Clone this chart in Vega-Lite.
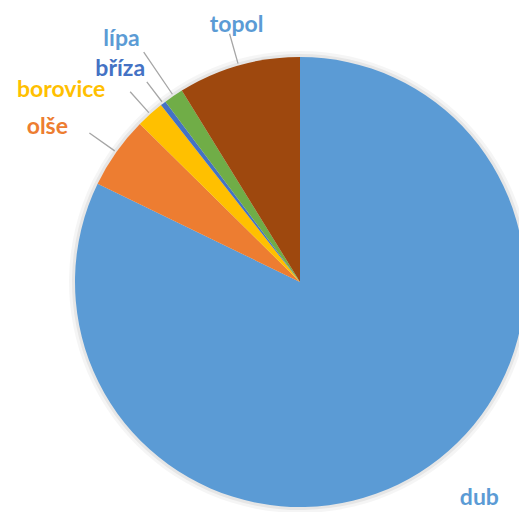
{
  "$schema": "https://vega.github.io/schema/vega-lite/v6.json",
  "width": 438,
  "height": 460,
  "autosize": {"type": "none"},
  "padding": {"left": 81, "top": 52, "right": 0, "bottom": 0},
  "background": "white",
  "view": {"stroke": null},
  "data": {
    "values": [
      {"tree": "dub", "pct": 82.2, "order": 1},
      {"tree": "olše", "pct": 5.2, "order": 2},
      {"tree": "borovice", "pct": 2.0, "order": 3},
      {"tree": "bříza", "pct": 0.4, "order": 4},
      {"tree": "lípa", "pct": 1.4, "order": 5},
      {"tree": "topol", "pct": 8.8, "order": 6}
    ]
  },
  "encoding": {
    "theta": {"field": "pct", "type": "quantitative", "stack": true},
    "order": {"field": "order", "type": "quantitative"},
    "detail": {"field": "tree", "type": "nominal"}
  },
  "layer": [
    {"mark": {"type": "arc", "radius": 231, "color": "#000000", "opacity": 0.04}},
    {"mark": {"type": "arc", "radius": 228, "color": "#000000", "opacity": 0.06}},
    {
      "mark": {"type": "arc", "radius": 225},
      "encoding": {
        "color": {
          "field": "tree",
          "type": "nominal",
          "scale": {
            "domain": ["dub", "olše", "borovice", "bříza", "lípa", "topol"],
            "range": ["#5B9BD5", "#ED7D31", "#FFC000", "#4472C4", "#70AD47", "#9E480E"]
          },
          "legend": null
        }
      }
    },
    {
      "mark": {"type": "arc", "radius": 258, "radius2": 227, "padAngle": 3.2, "fillOpacity": 0, "stroke": "#A6A6A6", "strokeWidth": 1.3},
      "encoding": {"strokeOpacity": {"condition": {"test": "datum.tree === 'topol'", "value": 1}, "value": 0}}
    },
    {
      "mark": {"type": "arc", "radius": 278, "radius2": 227, "padAngle": 3.2, "fillOpacity": 0, "stroke": "#A6A6A6", "strokeWidth": 1.3},
      "encoding": {"strokeOpacity": {"condition": {"test": "datum.tree === 'lípa'", "value": 1}, "value": 0}}
    },
    {
      "mark": {"type": "arc", "radius": 252, "radius2": 227, "padAngle": 3.2, "fillOpacity": 0, "stroke": "#A6A6A6", "strokeWidth": 1.3},
      "encoding": {"strokeOpacity": {"condition": {"test": "datum.tree === 'bříza'", "value": 1}, "value": 0}}
    },
    {
      "mark": {"type": "arc", "radius": 255, "radius2": 227, "padAngle": 3.2, "fillOpacity": 0, "stroke": "#A6A6A6", "strokeWidth": 1.3},
      "encoding": {"strokeOpacity": {"condition": {"test": "datum.tree === 'borovice'", "value": 1}, "value": 0}}
    },
    {
      "mark": {"type": "arc", "radius": 258, "radius2": 227, "padAngle": 3.2, "fillOpacity": 0, "stroke": "#A6A6A6", "strokeWidth": 1.3},
      "encoding": {"strokeOpacity": {"condition": {"test": "datum.tree === 'olše'", "value": 1}, "value": 0}}
    },
    {
      "mark": {"type": "text", "radius": 225, "dx": 60, "dy": 25, "font": "Lato", "fontWeight": "bold", "fontSize": 23, "color": "#5B9BD5", "align": "center", "baseline": "middle"},
      "encoding": {"text": {"condition": {"test": "datum.tree === 'dub'", "field": "tree", "type": "nominal"}, "value": ""}}
    },
    {
      "mark": {"type": "text", "radius": 225, "dx": -69, "dy": -25, "font": "Lato", "fontWeight": "bold", "fontSize": 23, "color": "#ED7D31", "align": "center", "baseline": "middle"},
      "encoding": {"text": {"condition": {"test": "datum.tree === 'olše'", "field": "tree", "type": "nominal"}, "value": ""}}
    },
    {
      "mark": {"type": "text", "radius": 225, "dx": -89, "dy": -24, "font": "Lato", "fontWeight": "bold", "fontSize": 23, "color": "#FFC000", "align": "center", "baseline": "middle"},
      "encoding": {"text": {"condition": {"test": "datum.tree === 'borovice'", "field": "tree", "type": "nominal"}, "value": ""}}
    },
    {
      "mark": {"type": "text", "radius": 225, "dx": -43, "dy": -34, "font": "Lato", "fontWeight": "bold", "fontSize": 23, "color": "#4472C4", "align": "center", "baseline": "middle"},
      "encoding": {"text": {"condition": {"test": "datum.tree === 'bříza'", "field": "tree", "type": "nominal"}, "value": ""}}
    },
    {
      "mark": {"type": "text", "radius": 225, "dx": -52, "dy": -57, "font": "Lato", "fontWeight": "bold", "fontSize": 23, "color": "#5B9BD5", "align": "center", "baseline": "middle"},
      "encoding": {"text": {"condition": {"test": "datum.tree === 'lípa'", "field": "tree", "type": "nominal"}, "value": ""}}
    },
    {
      "mark": {"type": "text", "radius": 225, "dx": -2, "dy": -41, "font": "Lato", "fontWeight": "bold", "fontSize": 23, "color": "#5B9BD5", "align": "center", "baseline": "middle"},
      "encoding": {"text": {"condition": {"test": "datum.tree === 'topol'", "field": "tree", "type": "nominal"}, "value": ""}}
    }
  ]
}
